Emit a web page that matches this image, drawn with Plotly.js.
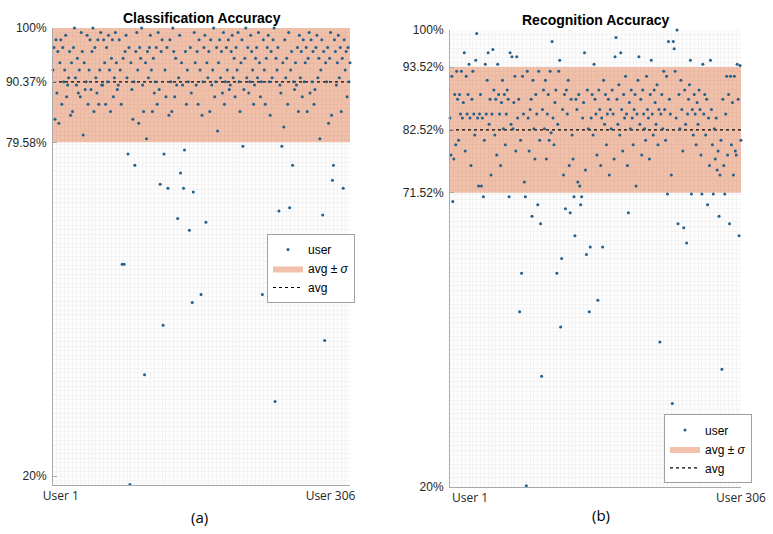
<!DOCTYPE html>
<html>
<head>
<meta charset="utf-8">
<script src="https://cdn.plot.ly/plotly-3.0.1.min.js"></script>
<style>
  html, body { margin: 0; padding: 0; background: #fff; }
  #chart { width: 773px; height: 534px; }
</style>
</head>
<body>
<div id="chart"></div>
<script>
// per-user accuracy (%), user 1 .. 306
const classAcc = [
  92.5, 96.5, 83.7, 97.9, 88.4, 95.8, 83.0, 93.8, 97.9, 86.4,
  96.5, 90.4, 92.5, 98.7, 87.7, 89.8, 91.1, 95.8, 84.4, 93.8,
  85.1, 96.5, 100, 91.1, 89.8, 94.6, 88.4, 92.5, 87.7, 99.2,
  95.8, 80.9, 93.8, 89.0, 90.4, 98.7, 86.4, 92.5, 97.9, 89.0,
  95.8, 100, 85.1, 96.5, 91.1, 88.4, 97.9, 86.4, 92.5, 99.2,
  89.8, 89.8, 97.9, 93.8, 86.4, 96.5, 90.4, 98.7, 92.5, 85.1,
  94.6, 97.9, 87.7, 91.1, 99.2, 93.8, 89.0, 89.8, 97.9, 92.5,
  86.4, 57.8, 94.6, 57.8, 95.8, 98.7, 91.1, 77.5, 96.5, 18.5,
  93.8, 89.0, 83.7, 90.4, 75.5, 95.8, 99.2, 92.5, 83.0, 96.5,
  94.6, 100, 89.8, 85.1, 38.1, 93.8, 80.2, 95.8, 91.1, 96.5,
  98.7, 92.5, 85.1, 94.6, 88.4, 90.4, 96.5, 86.4, 99.2, 89.0,
  72.1, 95.8, 97.9, 46.9, 77.5, 92.5, 87.7, 96.5, 71.4, 84.4,
  97.9, 90.4, 85.1, 100, 95.8, 87.7, 94.6, 89.8, 66.0, 91.1,
  98.7, 74.1, 93.8, 89.8, 71.4, 78.2, 95.8, 86.4, 92.5, 90.4,
  63.9, 96.5, 88.4, 51.0, 70.7, 99.2, 93.8, 89.8, 95.8, 86.4,
  97.9, 92.5, 52.4, 84.4, 90.4, 96.5, 98.7, 65.3, 93.8, 91.1,
  95.8, 85.1, 97.9, 89.8, 92.5, 100, 87.7, 90.4, 96.5, 81.6,
  93.8, 97.9, 91.1, 95.8, 88.4, 99.2, 86.4, 90.4, 96.5, 92.5,
  97.9, 89.0, 89.8, 95.8, 98.7, 91.1, 94.6, 87.7, 96.5, 92.5,
  99.2, 90.4, 85.1, 93.8, 97.9, 78.9, 89.0, 94.6, 100, 91.1,
  96.5, 88.4, 90.4, 98.7, 95.8, 92.5, 86.4, 89.8, 94.6, 96.5,
  91.1, 99.2, 93.8, 87.7, 90.4, 52.4, 97.9, 92.5, 86.4, 94.6,
  96.5, 98.7, 90.4, 84.4, 95.8, 91.1, 97.9, 100, 33.3, 94.6,
  92.5, 96.5, 67.3, 89.8, 88.4, 78.9, 93.8, 82.3, 97.9, 91.1,
  94.6, 86.4, 99.2, 67.9, 92.5, 95.8, 75.5, 90.4, 89.0, 93.8,
  89.8, 96.5, 85.1, 98.7, 91.1, 95.8, 87.7, 97.9, 90.4, 93.8,
  96.5, 85.1, 94.6, 99.2, 88.4, 97.9, 90.4, 95.8, 86.4, 89.0,
  96.5, 98.7, 91.1, 94.6, 80.2, 92.5, 97.9, 66.6, 95.8, 44.2,
  93.8, 90.4, 96.5, 83.0, 94.6, 99.2, 84.4, 72.8, 75.5, 97.9,
  95.8, 89.8, 93.8, 98.7, 91.1, 96.5, 85.1, 94.6, 71.4, 97.9,
  92.5, 95.8, 87.7, 96.5, 90.4, 93.8
];

const recogAcc = [
  84.6, 78.1, 91.9, 70.0, 77.4, 88.7, 79.9, 92.8, 87.9, 80.7,
  88.7, 85.3, 92.8, 84.6, 87.3, 96.0, 78.8, 91.9, 85.3, 88.7,
  94.0, 84.6, 76.3, 87.9, 92.8, 85.3, 81.6, 94.7, 99.4, 84.6,
  72.7, 85.3, 88.7, 72.7, 84.6, 70.8, 80.7, 94.0, 85.3, 91.2,
  96.0, 83.5, 87.9, 74.6, 85.3, 96.6, 89.5, 81.6, 87.9, 78.1,
  94.0, 88.7, 85.3, 76.3, 87.3, 91.2, 82.7, 88.7, 79.9, 85.3,
  89.5, 87.9, 70.8, 96.0, 83.5, 95.3, 82.7, 87.3, 91.9, 78.8,
  95.3, 84.6, 87.9, 50.7, 80.7, 57.4, 91.9, 85.3, 73.4, 70.8,
  20.2, 92.8, 84.6, 78.8, 86.1, 87.9, 67.4, 91.2, 82.7, 77.4,
  88.7, 85.3, 69.4, 92.8, 80.7, 66.1, 39.4, 86.1, 89.5, 82.7,
  91.2, 77.4, 85.3, 88.7, 80.7, 92.8, 82.0, 98.0, 84.6, 79.9,
  87.3, 89.5, 57.4, 83.5, 92.8, 94.7, 48.0, 60.0, 86.1, 74.6,
  88.7, 68.7, 89.5, 85.3, 91.2, 76.3, 68.0, 87.9, 81.6, 77.4,
  70.8, 64.0, 87.9, 86.1, 73.4, 88.7, 72.7, 69.4, 70.8, 84.6,
  87.3, 96.0, 75.5, 60.7, 89.5, 82.7, 50.7, 62.0, 84.6, 88.7,
  81.6, 94.0, 87.9, 85.3, 78.1, 52.7, 89.5, 86.1, 76.3, 84.6,
  62.0, 91.2, 83.5, 88.7, 79.9, 85.3, 87.9, 74.6, 86.1, 82.7,
  89.5, 85.3, 77.4, 95.3, 98.7, 87.9, 83.5, 90.4, 81.6, 96.0,
  86.1, 78.8, 88.7, 84.6, 91.9, 85.3, 76.3, 68.0, 87.3, 82.7,
  89.5, 84.6, 79.9, 86.1, 88.7, 72.7, 85.3, 91.2, 95.3, 83.5,
  87.9, 78.1, 89.5, 85.3, 82.7, 80.7, 91.9, 86.1, 84.6, 77.4,
  88.7, 94.7, 85.3, 81.6, 89.5, 87.3, 83.5, 90.4, 79.9, 86.1,
  45.4, 85.3, 88.7, 82.7, 92.8, 86.1, 80.7, 91.9, 71.3, 98.0,
  87.9, 85.3, 74.6, 34.6, 98.0, 96.7, 92.8, 84.6, 100, 66.1,
  88.7, 82.7, 91.2, 86.1, 78.8, 65.4, 89.5, 83.5, 62.7, 85.3,
  87.9, 90.4, 94.7, 71.3, 86.1, 81.6, 88.7, 85.3, 79.9, 87.3,
  83.5, 89.5, 86.1, 78.1, 71.3, 94.0, 85.3, 88.7, 81.6, 87.9,
  69.4, 84.6, 76.3, 94.7, 86.1, 79.9, 71.3, 82.7, 77.4, 84.6,
  75.5, 78.8, 67.4, 74.6, 80.7, 40.6, 87.9, 76.3, 71.3, 85.3,
  91.9, 78.1, 88.7, 66.1, 91.9, 79.9, 87.3, 74.6, 91.9, 78.8,
  78.1, 94.0, 87.9, 64.0, 93.8, 80.7
];

// mean and standard deviation as labelled on the figure
const classAvg = 90.37, classSd = 10.79;
const recogAvg = 82.52, recogSd = 11.00;
const classTicks = [20, 79.58, 90.37, 100];
const recogTicks = [20, 71.52, 82.52, 93.52, 100];
const userLabels = ['User 1', 'User 306'];

const users = classAcc.map((_, i) => i + 1);
const first = users[0], last = users[users.length - 1];

const dotColor = '#245f8a';
const bandColor = 'rgba(217, 83, 25, 0.36)';
const greyLine = '#a9a9a9';
const gridColor = '#f3f3f3';
const tickFont = { family: "'Liberation Sans', Arial, sans-serif", size: 12, color: '#262626' };
const userFont = { family: "'Open Sans', sans-serif", size: 12, color: '#262626' };

// 한 패널의 트레이스 세트 (밴드, 평균선, 점)
const panelTraces = (acc, avg, sd, xa, ya, legendId) => {
  const lo = avg - sd;
  const hi = Math.min(100, avg + sd);
  return [
    {
      x: [first, last, last, first], y: [lo, lo, hi, hi],
      xaxis: xa, yaxis: ya, type: 'scatter', mode: 'lines',
      fill: 'toself', fillcolor: bandColor, line: { width: 0 },
      name: 'avg ± <i>σ</i>', legend: legendId, legendrank: 2, hoverinfo: 'skip'
    },
    {
      x: [first, last], y: [avg, avg],
      xaxis: xa, yaxis: ya, type: 'scatter', mode: 'lines',
      line: { color: '#000', width: 1.1, dash: 'dot' },
      name: 'avg', legend: legendId, legendrank: 3
    },
    {
      x: users, y: acc,
      xaxis: xa, yaxis: ya, type: 'scatter', mode: 'markers',
      marker: { color: dotColor, size: 3 },
      cliponaxis: false,
      name: 'user', legend: legendId, legendrank: 1
    }
  ];
};

const xAxis = (domain, anchor, tickvals) => ({
  domain: domain, anchor: anchor, range: [first, last],
  tickmode: 'array', tickvals: tickvals, ticktext: userLabels,
  showgrid: false, zeroline: false, showline: true, linecolor: greyLine, linewidth: 1,
  ticks: '', tickfont: userFont, fixedrange: true,
  minor: { showgrid: true, tickmode: 'linear', tick0: first, dtick: 4, gridcolor: gridColor, gridwidth: 1 }
});

const yAxis = (domain, anchor, range, ticks) => ({
  domain: domain, anchor: anchor, range: range,
  tickmode: 'array', tickvals: ticks, ticktext: ticks.map(v => v + '%'),
  showgrid: false, zeroline: false, showline: true, linecolor: greyLine, linewidth: 1,
  ticks: 'inside', ticklen: 4, tickcolor: greyLine, tickfont: tickFont,
  ticklabelstandoff: 3, fixedrange: true,
  minor: { showgrid: true, tickmode: 'linear', tick0: 20, dtick: 0.8, gridcolor: gridColor, gridwidth: 1 }
});

const legendBox = (x, y) => ({
  x: x, y: y, xanchor: 'left', yanchor: 'top',
  bgcolor: '#fff', bordercolor: '#a0a0a0', borderwidth: 1,
  font: { family: "'Liberation Sans', Arial, sans-serif", size: 12, color: '#000' },
  itemwidth: 30, tracegroupgap: 0
});

const data = [
  ...panelTraces(classAcc, classAvg, classSd, 'x', 'y', 'legend'),
  ...panelTraces(recogAcc, recogAvg, recogSd, 'x2', 'y2', 'legend2')
];

const titleFont = { family: "'Liberation Sans', Arial, sans-serif", size: 14, color: '#000', weight: 'bold' };
const captionFont = { family: "'Open Sans', sans-serif", size: 15, color: '#000' };

const layout = {
  width: 773, height: 534,
  margin: { l: 0, r: 0, t: 0, b: 0 },
  paper_bgcolor: '#fff', plot_bgcolor: '#fdfdfd',
  showlegend: true,
  xaxis: xAxis([0.0686, 0.4528], 'y', [9, 286]),
  yaxis: yAxis([0.0918, 0.9476], 'x', [18.4, 100], classTicks),
  xaxis2: xAxis([0.5821, 0.9586], 'y2', [22, 306]),
  yaxis2: yAxis([0.0880, 0.9438], 'x2', [20, 100], recogTicks),
  legend: legendBox(0.3454, 0.5618),
  legend2: legendBox(0.859, 0.224),
  annotations: [
    { text: '<b>Classification Accuracy</b>', xref: 'paper', yref: 'paper', x: 0.2607, y: 0.966,
      xanchor: 'center', yanchor: 'middle', showarrow: false, font: titleFont },
    { text: '<b>Recognition Accuracy</b>', xref: 'paper', yref: 'paper', x: 0.7704, y: 0.9625,
      xanchor: 'center', yanchor: 'middle', showarrow: false, font: titleFont },
    { text: '(a)', xref: 'paper', yref: 'paper', x: 0.2587, y: 0.0318,
      xanchor: 'center', yanchor: 'middle', showarrow: false, font: captionFont },
    { text: '(b)', xref: 'paper', yref: 'paper', x: 0.7775, y: 0.0356,
      xanchor: 'center', yanchor: 'middle', showarrow: false, font: captionFont }
  ]
};

Plotly.newPlot('chart', data, layout, { displayModeBar: false, staticPlot: true });
</script>
</body>
</html>
